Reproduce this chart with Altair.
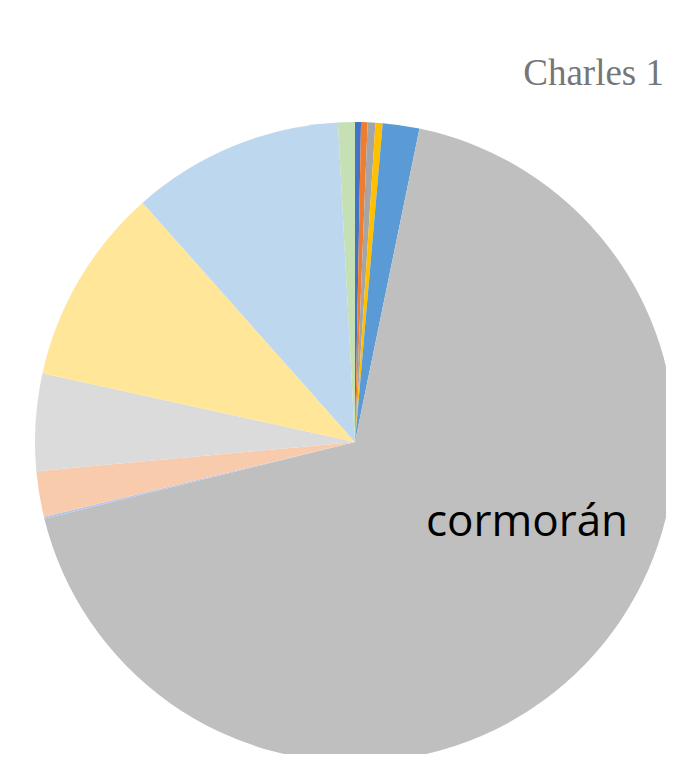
import altair as alt
import pandas as pd

categories = ["s1", "s2", "s3", "s4", "s5", "cormorán", "s7", "s8", "s9", "s10", "s11", "s12"]
values = [0.30, 0.33, 0.39, 0.36, 1.85, 67.9, 0.10, 2.3, 4.9, 10.0, 10.7, 0.85]
colors = ["#4472C4", "#ED7D31", "#A5A5A5", "#FFC000", "#5B9BD5", "#BFBFBF",
          "#B4C7E7", "#F8CBAD", "#DBDBDB", "#FFE699", "#BDD7EE", "#C5E0B4"]

df = pd.DataFrame({"cat": categories, "val": values, "idx": list(range(len(values)))})

pie = alt.Chart(df).mark_arc(outerRadius=320, stroke=None).encode(
    theta=alt.Theta("val:Q", stack=True),
    order=alt.Order("idx:Q"),
    color=alt.Color("cat:N", scale=alt.Scale(domain=categories, range=colors), legend=None),
    x=alt.value(347),
    y=alt.value(434),
)

label = alt.Chart(pd.DataFrame({"t": ["cormorán"]})).mark_text(
    font="Open Sans", fontSize=44, color="#000000", align="center", baseline="alphabetic"
).encode(text="t:N", x=alt.value(519), y=alt.value(528))

title = alt.Chart(pd.DataFrame({"t": ["Charles 1"]})).mark_text(
    font="Liberation Serif", fontSize=37, color="#767676", align="right", baseline="alphabetic"
).encode(text="t:N", x=alt.value(656), y=alt.value(77))

chart = alt.layer(pie, label, title).properties(
    width=658, height=746, padding=0, autosize=alt.AutoSizeParams(type="none")
).configure_view(stroke=None)

chart.save("out.html", embed_options={"renderer": "svg", "actions": False})
